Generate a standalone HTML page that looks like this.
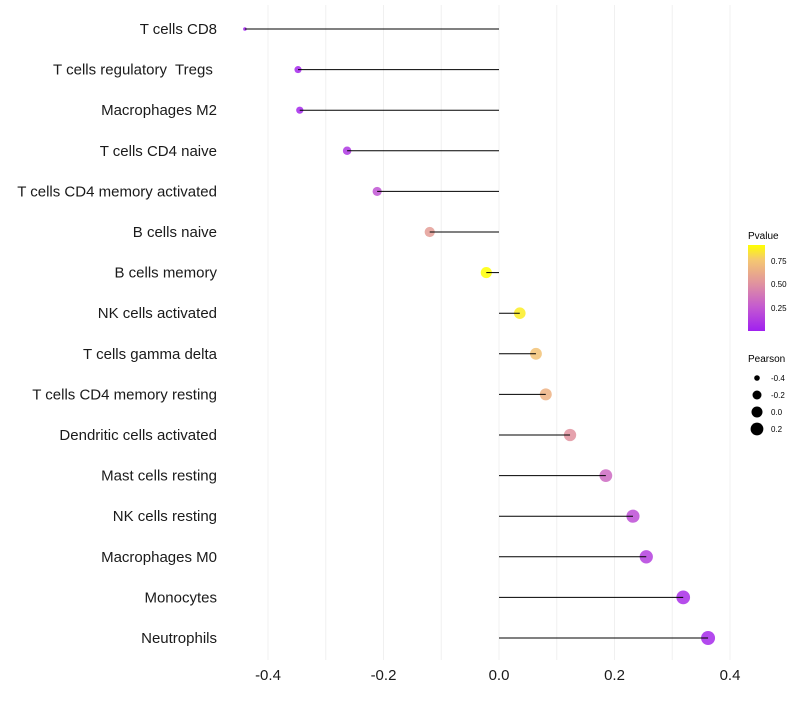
<!DOCTYPE html>
<html><head><meta charset="utf-8"><style>
body{margin:0;background:#fff;}
svg text{font-family:"Liberation Sans",sans-serif;white-space:pre;}
</style></head><body>
<svg id="chart" width="800" height="700" xmlns="http://www.w3.org/2000/svg">
<defs><linearGradient id="pg" x1="0" y1="1" x2="0" y2="0">
<stop offset="0" stop-color="#a020f0"/><stop offset="0.28" stop-color="#c45ad0"/><stop offset="0.55" stop-color="#e0929f"/><stop offset="0.83" stop-color="#f5c870"/><stop offset="1" stop-color="#ffff00"/></linearGradient></defs>
<g id="grid"></g><g id="marks"></g><g id="labels"></g><g id="xaxis"></g>
<g>
<text x="748" y="239" font-size="10">Pvalue</text>
<rect x="748" y="245" width="17" height="86" fill="url(#pg)"/>
<text x="771" y="264" font-size="8">0.75</text>
<text x="771" y="287" font-size="8">0.50</text>
<text x="771" y="311" font-size="8">0.25</text>
</g>
<g>
<text x="748" y="362" font-size="10">Pearson</text>
<circle cx="757" cy="378" r="2.8" fill="#000"/><text x="771" y="381" font-size="8">-0.4</text>
<circle cx="757" cy="395" r="4.5" fill="#000"/><text x="771" y="398" font-size="8">-0.2</text>
<circle cx="757" cy="412" r="5.5" fill="#000"/><text x="771" y="415" font-size="8">0.0</text>
<circle cx="757" cy="429" r="6.4" fill="#000"/><text x="771" y="432" font-size="8">0.2</text>
</g>
</svg>
<script>
const categories=["T cells CD8","T cells regulatory  Tregs ","Macrophages M2","T cells CD4 naive","T cells CD4 memory activated","B cells naive","B cells memory","NK cells activated","T cells gamma delta","T cells CD4 memory resting","Dendritic cells activated","Mast cells resting","NK cells resting","Macrophages M0","Monocytes","Neutrophils"];
const pearson=[-0.44,-0.348,-0.345,-0.263,-0.211,-0.12,-0.022,0.036,0.064,0.081,0.123,0.185,0.232,0.255,0.319,0.362];
const pvalues=[0.003,0.03,0.03,0.1,0.22,0.55,0.9,0.85,0.72,0.65,0.5,0.32,0.2,0.14,0.06,0.04];
const xTicks=[-0.4,-0.2,0.0,0.2,0.4];
const xTickLabels=["-0.4","-0.2","0.0","0.2","0.4"];
const gridVals=[-0.4,-0.3,-0.2,-0.1,0,0.1,0.2,0.3,0.4];
const NS="http://www.w3.org/2000/svg";
function xs(v){return 499+v*577.5;}
function ys(i){return 29+i*40.6;}
const pmin=Math.min(...pearson),pmax=Math.max(...pearson);
function rs(v){const t=Math.max(0,(v-pmin)/(pmax-pmin));return 1.8+5.2*Math.sqrt(t);}
const stops=[[0,[160,32,240]],[0.25,[196,90,208]],[0.5,[224,146,159]],[0.75,[245,200,112]],[0.9,[255,255,0]]];
function col(p){p=Math.max(0,Math.min(0.9,p));for(let k=0;k<stops.length-1;k++){const a=stops[k],b=stops[k+1];if(p<=b[0]){const t=(p-a[0])/(b[0]-a[0]);return "rgb("+a[1].map((c,j)=>Math.round(c+(b[1][j]-c)*t)).join(",")+")";}}return "rgb(255,255,0)";}
function mk(tag,at,parent){const e=document.createElementNS(NS,tag);for(const k in at)e.setAttribute(k,at[k]);document.getElementById(parent).appendChild(e);return e;}
gridVals.forEach(v=>{const l=mk("line",{x1:xs(v),x2:xs(v),y1:5,y2:660,stroke:"#f0f0f0","stroke-width":1},"grid");

});
categories.forEach((c,i)=>{
const pt=mk("circle",{cx:xs(pearson[i]),cy:ys(i),r:rs(pearson[i]),fill:col(pvalues[i]),"fill-opacity":0.85},"marks");


const ln=mk("line",{x1:xs(0),x2:xs(pearson[i]),y1:ys(i),y2:ys(i),stroke:"#000","stroke-width":1},"marks");


const t=mk("text",{x:217,y:ys(i)+5,"font-size":15,"text-anchor":"end",fill:"#1a1a1a"},"labels");
t.textContent=c;


});
xTicks.forEach((v,i)=>{const t=mk("text",{x:xs(v),y:680,"font-size":15,"text-anchor":"middle",fill:"#1a1a1a"},"xaxis");
t.textContent=xTickLabels[i];

});
</script>
</body></html>
